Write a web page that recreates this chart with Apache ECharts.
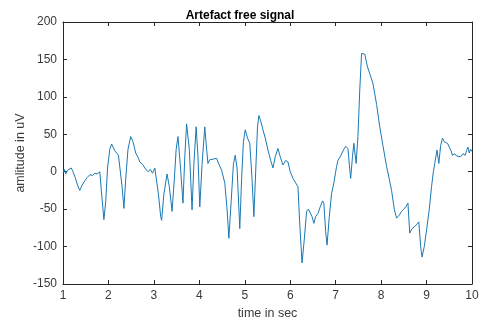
<!DOCTYPE html>
<html>
<head>
<meta charset="utf-8">
<script src="https://cdn.jsdelivr.net/npm/echarts@6/dist/echarts.min.js"></script>
<style>
  html, body { margin: 0; padding: 0; background: #fff; }
  #chart { width: 480px; height: 320px; }
</style>
</head>
<body>
<div id="chart"></div>
<script>
// Values (time in sec, amplitude in uV)
var timeSec = [
    1.00, 1.03, 1.06, 1.10, 1.14, 1.18, 1.22, 1.27, 1.32, 1.37, 1.42, 1.48, 1.53, 1.59, 1.65, 1.70, 1.75, 1.81,
    1.85, 1.90, 1.94, 1.98, 2.03, 2.07, 2.10, 2.14, 2.18, 2.22, 2.26, 2.30, 2.34, 2.38, 2.43, 2.49, 2.54, 2.60,
    2.66, 2.69, 2.75, 2.80, 2.87, 2.92, 2.97, 3.02, 3.05, 3.10, 3.15, 3.17, 3.22, 3.29, 3.34, 3.40, 3.45, 3.49,
    3.53, 3.58, 3.64, 3.68, 3.72, 3.78, 3.84, 3.88, 3.93, 3.97, 4.01, 4.06, 4.12, 4.16, 4.19, 4.23, 4.27, 4.32,
    4.38, 4.43, 4.49, 4.56, 4.61, 4.65, 4.70, 4.75, 4.79, 4.83, 4.89, 4.93, 4.97, 5.01, 5.06, 5.11, 5.16, 5.20,
    5.24, 5.28, 5.31, 5.35, 5.40, 5.45, 5.51, 5.57, 5.62, 5.67, 5.73, 5.78, 5.84, 5.90, 5.95, 6.00, 6.06, 6.12,
    6.17, 6.21, 6.26, 6.31, 6.36, 6.40, 6.43, 6.48, 6.52, 6.56, 6.61, 6.66, 6.71, 6.74, 6.78, 6.81, 6.86, 6.91,
    6.96, 7.02, 7.05, 7.10, 7.13, 7.18, 7.22, 7.27, 7.30, 7.33, 7.37, 7.40, 7.45, 7.49, 7.53, 7.57, 7.64, 7.70,
    7.75, 7.82, 7.90, 7.97, 8.04, 8.12, 8.18, 8.23, 8.29, 8.34, 8.40, 8.45, 8.50, 8.54, 8.59, 8.63, 8.68, 8.74,
    8.79, 8.83, 8.87, 8.90, 8.95, 9.00, 9.06, 9.11, 9.15, 9.18, 9.23, 9.27, 9.31, 9.35, 9.39, 9.42, 9.46, 9.50,
    9.54, 9.57, 9.62, 9.66, 9.70, 9.75, 9.80, 9.85, 9.88, 9.91, 9.94, 9.97, 10.00
];
var amplitude = [
    -2, 3, -3, 2, 3, 5, 0, -8, -18, -25, -18, -12, -8, -4, -5, -2, -3, 0,
    -30, -64, -40, 5, 30, 37, 38, 28, 30, 22, 20, -20, -49, -10, 30, 47, 40, 25,
    18, 13, 10, 5, 0, 3, -2, 5, 4, -30, -60, -65, -30, -3, -20, -53, -10, 30,
    47, 10, -42, 20, 64, 30, -51, 10, 60, 20, -47, 10, 60, 30, 11, 16, 14, 17,
    18, 10, 2, -15, -50, -89, -40, 10, 22, 5, -76, -10, 40, 56, 45, 38, -10, -60,
    0, 60, 75, 68, 56, 45, 29, 15, 5, 20, 31, 20, 9, 15, 13, 0, -9, -15,
    -20, -70, -122, -90, -53, -50, -52, -60, -69, -60, -56, -47, -39, -42, -80, -98, -60, -29,
    -15, 7, 15, 20, 22, 30, 34, 31, 10, -9, 20, 38, 11, 47, 109, 158, 157, 140,
    131, 118, 90, 60, 35, 7, -10, -25, -50, -62, -58, -53, -50, -47, -42, -82, -76, -73,
    -70, -67, -100, -114, -100, -78, -50, -20, 0, 11, 29, 11, 35, 45, 40, 42, 38, 33,
    28, 22, 24, 21, 23, 20, 24, 22, 28, 33, 25, 30, 27
];

var xTicks = { min: 1, max: 10, interval: 1 };
var yTicks = { min: -150, max: 200, interval: 50 };

var axisColor = '#262626';
var labelColor = '#3a3a3a';
var fontFamily = '"Liberation Sans", Arial, sans-serif';

var chart = echarts.init(document.getElementById('chart'));

var signalData = timeSec.map(function(t, i) { return [t, amplitude[i]]; });

// MATLAB-like box: every side has a line and inward ticks
function boxAxis(extra) {
    return Object.assign({
        type: 'value',
        axisLine: { show: true, onZero: false, lineStyle: { color: axisColor, width: 1 } },
        axisTick: { show: true, inside: true, length: 4, lineStyle: { color: axisColor } },
        splitLine: { show: false },
        axisLabel: { show: false }
    }, extra);
}

chart.setOption({
    animation: false,
    title: {
        text: 'Artefact free signal',
        left: 'center',
        top: 5,
        textStyle: { fontFamily: fontFamily, fontSize: 12, fontWeight: 'bold', color: '#000' }
    },
    grid: { left: 63, right: 8, top: 22, bottom: 36, outerBoundsMode: 'none' },
    xAxis: [
        boxAxis({
            position: 'bottom',
            min: xTicks.min, max: xTicks.max, interval: xTicks.interval,
            name: 'time in sec',
            nameLocation: 'middle',
            nameGap: 18,
            nameTextStyle: { fontFamily: fontFamily, fontSize: 12.5, color: labelColor },
            axisLabel: { show: true, margin: 6, fontFamily: fontFamily, fontSize: 12, color: labelColor }
        }),
        boxAxis({ position: 'top', min: xTicks.min, max: xTicks.max, interval: xTicks.interval })
    ],
    yAxis: [
        boxAxis({
            position: 'left',
            min: yTicks.min, max: yTicks.max, interval: yTicks.interval,
            name: 'amlitude in uV',
            nameLocation: 'middle',
            nameGap: 36,
            nameMoveOverlap: false,
            nameTextStyle: { fontFamily: fontFamily, fontSize: 12.5, color: labelColor },
            axisLabel: { show: true, margin: 6, fontFamily: fontFamily, fontSize: 12, color: labelColor }
        }),
        boxAxis({ position: 'right', min: yTicks.min, max: yTicks.max, interval: yTicks.interval })
    ],
    series: [
        {
            type: 'line',
            xAxisIndex: 0,
            yAxisIndex: 0,
            data: signalData,
            symbol: 'none',
            lineStyle: { color: '#1a78b4', width: 1 }
        }
    ]
});
</script>
</body>
</html>
